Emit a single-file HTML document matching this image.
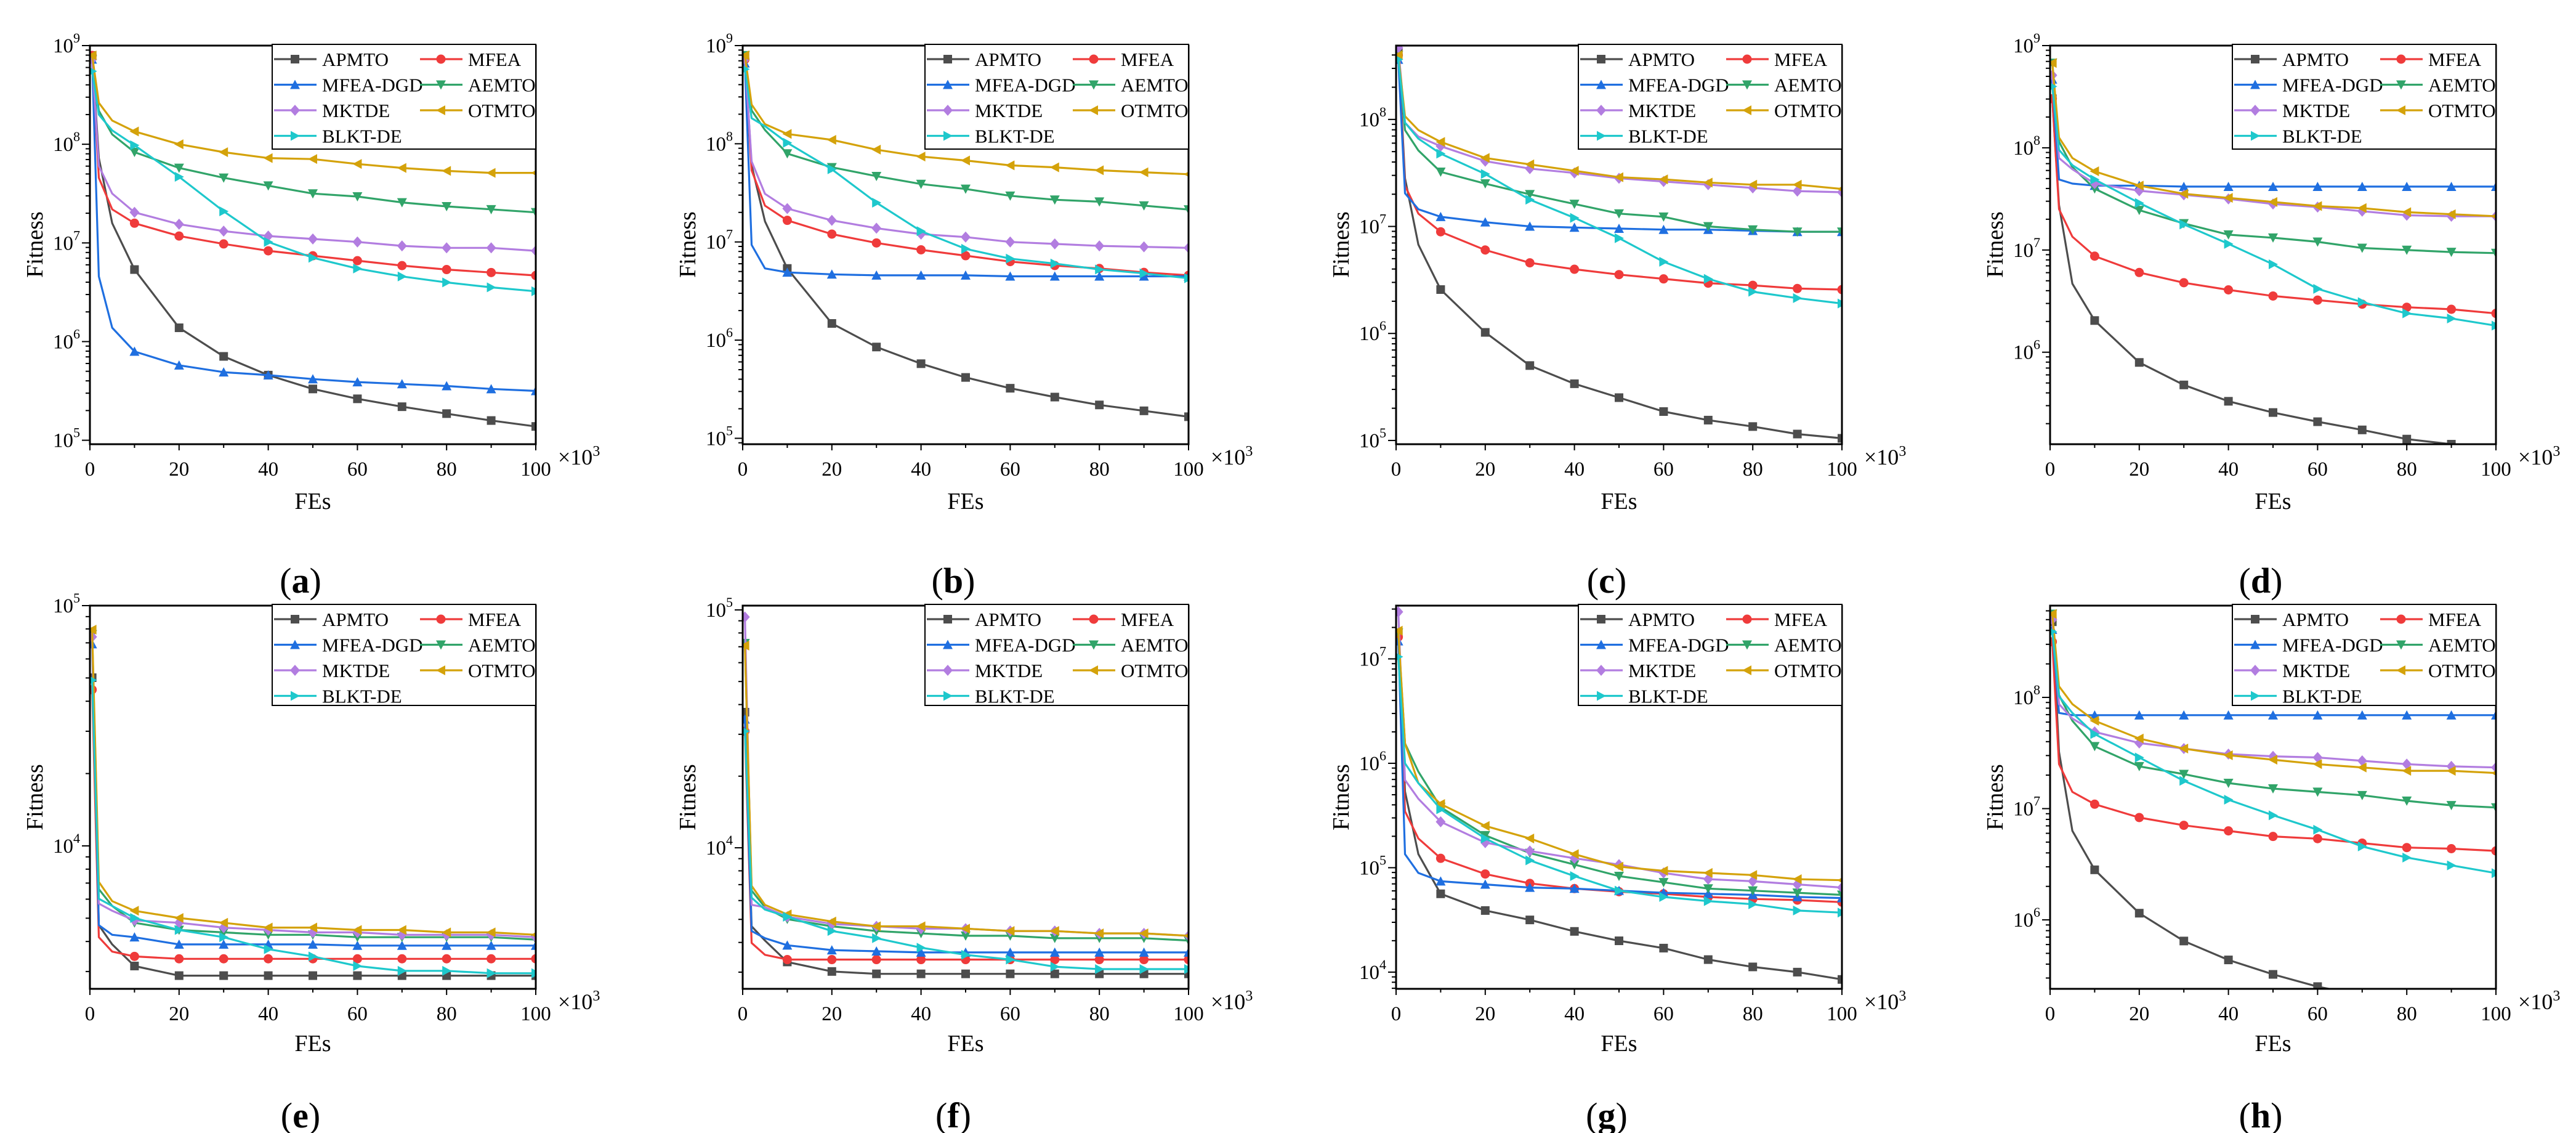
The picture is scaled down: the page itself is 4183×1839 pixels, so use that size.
<!DOCTYPE html>
<html><head><meta charset="utf-8"><style>
html,body{margin:0;padding:0;background:#fff}
svg{display:block}
text{font-family:"Liberation Serif",serif;fill:#000}
</style></head><body>
<svg id="fig" xmlns="http://www.w3.org/2000/svg" width="4183" height="1839" viewBox="0 0 4183 1839"></svg>
<script>
// x positions (FEs ×10^3)
const fes = [0.5, 2, 5, 10, 20, 30, 40, 50, 60, 70, 80, 90, 100];
const algNames = ["APMTO","MFEA","MFEA-DGD","AEMTO","MKTDE","OTMTO","BLKT-DE"];
const panelLabels = ["a","b","c","d","e","f","g","h"];
// log10(Fitness) series per panel
const a_APMTO=[8.9,7.86,7.2,6.73,6.14,5.85,5.66,5.52,5.42,5.34,5.27,5.2,5.14];
const a_MFEA=[8.9,7.66,7.34,7.2,7.07,6.99,6.92,6.87,6.82,6.77,6.73,6.7,6.67];
const a_DGD=[8.86,6.66,6.14,5.9,5.76,5.69,5.66,5.62,5.59,5.57,5.55,5.52,5.5];
const a_AEMTO=[8.86,8.34,8.1,7.92,7.76,7.66,7.58,7.5,7.47,7.41,7.37,7.34,7.31];
const a_MKTDE=[8.86,7.78,7.5,7.31,7.19,7.12,7.07,7.04,7.01,6.97,6.95,6.95,6.92];
const a_OTMTO=[8.9,8.42,8.24,8.13,8.0,7.92,7.86,7.85,7.8,7.76,7.73,7.71,7.71];
const a_BLKT=[8.74,8.3,8.14,7.99,7.67,7.32,7.01,6.85,6.74,6.66,6.6,6.55,6.51];
const b_APMTO=[8.9,7.78,7.21,6.73,6.17,5.93,5.76,5.62,5.51,5.42,5.34,5.28,5.22];
const b_MFEA=[8.86,7.73,7.37,7.22,7.08,6.99,6.92,6.86,6.8,6.76,6.73,6.69,6.66];
const b_DGD=[8.82,6.97,6.73,6.69,6.67,6.66,6.66,6.66,6.65,6.65,6.65,6.65,6.65];
const b_AEMTO=[8.9,8.34,8.14,7.9,7.76,7.67,7.59,7.54,7.47,7.43,7.41,7.37,7.33];
const b_MKTDE=[8.86,7.82,7.49,7.34,7.22,7.14,7.08,7.05,7.0,6.98,6.96,6.95,6.94];
const b_OTMTO=[8.9,8.4,8.2,8.1,8.04,7.94,7.87,7.83,7.78,7.76,7.73,7.71,7.69];
const b_BLKT=[8.76,8.26,8.18,8.01,7.74,7.4,7.11,6.93,6.83,6.78,6.72,6.68,6.63];
const c_APMTO=[8.63,7.45,6.83,6.41,6.01,5.7,5.53,5.4,5.27,5.19,5.13,5.06,5.02];
const c_MFEA=[8.6,7.38,7.12,6.95,6.78,6.66,6.6,6.55,6.51,6.47,6.45,6.42,6.41];
const c_DGD=[8.56,7.31,7.16,7.09,7.04,7.0,6.99,6.98,6.97,6.97,6.96,6.95,6.95];
const c_AEMTO=[8.6,7.9,7.71,7.51,7.4,7.3,7.21,7.12,7.09,7.0,6.97,6.95,6.95];
const c_MKTDE=[8.67,7.97,7.84,7.75,7.61,7.54,7.5,7.45,7.42,7.39,7.36,7.33,7.32];
const c_OTMTO=[8.6,8.03,7.9,7.79,7.64,7.58,7.52,7.46,7.44,7.41,7.39,7.39,7.35];
const c_BLKT=[8.56,7.97,7.82,7.68,7.49,7.25,7.08,6.89,6.67,6.51,6.39,6.33,6.28];
const d_APMTO=[8.48,7.44,6.67,6.31,5.9,5.68,5.52,5.41,5.32,5.24,5.15,5.1,5.06];
const d_MFEA=[8.48,7.4,7.13,6.94,6.78,6.68,6.61,6.55,6.51,6.47,6.44,6.42,6.38];
const d_DGD=[8.67,7.69,7.65,7.63,7.63,7.62,7.62,7.62,7.62,7.62,7.62,7.62,7.62];
const d_AEMTO=[8.83,8.06,7.81,7.6,7.39,7.26,7.15,7.12,7.08,7.02,7.0,6.98,6.97];
const d_MKTDE=[8.71,7.9,7.79,7.65,7.58,7.54,7.5,7.45,7.42,7.38,7.34,7.33,7.33];
const d_OTMTO=[8.83,8.1,7.9,7.77,7.63,7.55,7.51,7.47,7.43,7.41,7.37,7.35,7.33];
const d_BLKT=[8.6,7.98,7.83,7.69,7.46,7.25,7.06,6.86,6.62,6.49,6.38,6.33,6.26];
const e_APMTO=[4.7,3.67,3.59,3.5,3.46,3.46,3.46,3.46,3.46,3.46,3.46,3.46,3.46];
const e_MFEA=[4.65,3.62,3.56,3.54,3.53,3.53,3.53,3.53,3.53,3.53,3.53,3.53,3.53];
const e_DGD=[4.84,3.67,3.63,3.62,3.59,3.59,3.59,3.59,3.585,3.585,3.585,3.585,3.585];
const e_AEMTO=[4.88,3.82,3.75,3.68,3.65,3.64,3.63,3.63,3.62,3.62,3.62,3.62,3.61];
const e_MKTDE=[4.87,3.76,3.73,3.69,3.68,3.66,3.65,3.64,3.64,3.63,3.63,3.63,3.62];
const e_OTMTO=[4.9,3.85,3.77,3.73,3.7,3.68,3.66,3.66,3.65,3.65,3.64,3.64,3.63];
const e_BLKT=[4.69,3.78,3.75,3.7,3.65,3.62,3.57,3.54,3.5,3.48,3.48,3.47,3.47];
const f_APMTO=[4.57,3.67,3.61,3.52,3.48,3.47,3.47,3.47,3.47,3.47,3.47,3.47,3.47];
const f_MFEA=[4.49,3.6,3.55,3.53,3.53,3.53,3.53,3.53,3.53,3.53,3.53,3.53,3.53];
const f_DGD=[4.54,3.65,3.62,3.59,3.57,3.565,3.56,3.56,3.56,3.56,3.56,3.56,3.56];
const f_AEMTO=[4.86,3.82,3.75,3.7,3.67,3.65,3.64,3.63,3.63,3.62,3.62,3.62,3.61];
const f_MKTDE=[4.97,3.76,3.75,3.71,3.68,3.67,3.66,3.66,3.65,3.65,3.64,3.64,3.63];
const f_OTMTO=[4.85,3.84,3.76,3.72,3.69,3.67,3.67,3.66,3.65,3.65,3.64,3.64,3.63];
const f_BLKT=[4.49,3.79,3.74,3.71,3.65,3.62,3.58,3.55,3.53,3.5,3.49,3.49,3.49];
const g_APMTO=[7.25,5.73,5.13,4.75,4.59,4.5,4.39,4.3,4.23,4.12,4.05,4.0,3.93];
const g_MFEA=[7.21,5.54,5.28,5.09,4.94,4.85,4.8,4.77,4.75,4.72,4.7,4.69,4.67];
const g_DGD=[7.17,5.13,4.95,4.87,4.84,4.81,4.8,4.78,4.76,4.75,4.74,4.72,4.71];
const g_AEMTO=[7.25,6.19,5.92,5.58,5.31,5.14,5.03,4.92,4.86,4.8,4.78,4.76,4.74];
const g_MKTDE=[7.45,5.84,5.66,5.44,5.24,5.16,5.09,5.03,4.95,4.89,4.87,4.84,4.81];
const g_OTMTO=[7.27,6.19,5.81,5.61,5.4,5.28,5.13,5.01,4.97,4.95,4.93,4.89,4.88];
const g_BLKT=[7.02,6.0,5.81,5.56,5.28,5.07,4.92,4.78,4.72,4.68,4.65,4.59,4.57];
const h_APMTO=[8.68,7.51,6.8,6.45,6.06,5.81,5.64,5.51,5.4,5.32,5.24,5.17,5.11];
const h_MFEA=[8.5,7.4,7.15,7.04,6.92,6.85,6.8,6.75,6.73,6.69,6.65,6.64,6.62];
const h_DGD=[8.61,7.86,7.84,7.84,7.84,7.84,7.84,7.84,7.84,7.84,7.84,7.84,7.84];
const h_AEMTO=[8.75,8.02,7.79,7.56,7.38,7.31,7.23,7.18,7.15,7.12,7.07,7.03,7.01];
const h_MKTDE=[8.7,7.94,7.81,7.69,7.59,7.54,7.49,7.47,7.46,7.43,7.4,7.38,7.37];
const h_OTMTO=[8.75,8.1,7.94,7.79,7.63,7.54,7.48,7.44,7.4,7.37,7.34,7.34,7.32];
const h_BLKT=[8.59,8.01,7.86,7.67,7.46,7.25,7.08,6.94,6.81,6.66,6.56,6.49,6.42];
// axis ranges (log10)
const yLogMin = [4.96,4.94,4.965,5.10,3.405,3.407,3.84,5.38];
const yLogMax = [9,9,8.69,9,5,5.018,7.51,8.825];
const xTicks = [0,20,40,60,80,100];

const seriesByPanel = [
 [a_APMTO,a_MFEA,a_DGD,a_AEMTO,a_MKTDE,a_OTMTO,a_BLKT],
 [b_APMTO,b_MFEA,b_DGD,b_AEMTO,b_MKTDE,b_OTMTO,b_BLKT],
 [c_APMTO,c_MFEA,c_DGD,c_AEMTO,c_MKTDE,c_OTMTO,c_BLKT],
 [d_APMTO,d_MFEA,d_DGD,d_AEMTO,d_MKTDE,d_OTMTO,d_BLKT],
 [e_APMTO,e_MFEA,e_DGD,e_AEMTO,e_MKTDE,e_OTMTO,e_BLKT],
 [f_APMTO,f_MFEA,f_DGD,f_AEMTO,f_MKTDE,f_OTMTO,f_BLKT],
 [g_APMTO,g_MFEA,g_DGD,g_AEMTO,g_MKTDE,g_OTMTO,g_BLKT],
 [h_APMTO,h_MFEA,h_DGD,h_AEMTO,h_MKTDE,h_OTMTO,h_BLKT]
];
const colors = ["#4d4d4d","#ef3b3b","#1f6fe0","#31a469","#b27de0","#d4a20a","#1ec8cc"];
const shapes = ["square","circle","up","down","diamond","left","right"];

const NS="http://www.w3.org/2000/svg";
const svg=document.getElementById("fig");
function mk(tag,attrs,parent){const e=document.createElementNS(NS,tag);for(const k in attrs)e.setAttribute(k,attrs[k]);(parent||svg).appendChild(e);return e;}
function marker(g,shape,x,y,c){
  const s=7;let e;
  if(shape==="square")e=mk("rect",{x:x-s,y:y-s,width:2*s,height:2*s,fill:c},g);
  else if(shape==="circle")e=mk("circle",{cx:x,cy:y,r:s+0.5,fill:c},g);
  else{
    let p;
    if(shape==="up")p=[[x,y-s-1],[x+s+1,y+s],[x-s-1,y+s]];
    if(shape==="down")p=[[x,y+s+1],[x+s+1,y-s],[x-s-1,y-s]];
    if(shape==="diamond")p=[[x,y-s-2],[x+s+1,y],[x,y+s+2],[x-s-1,y]];
    if(shape==="left")p=[[x-s-1,y],[x+s,y-s-1],[x+s,y+s+1]];
    if(shape==="right")p=[[x+s+1,y],[x-s,y-s-1],[x-s,y+s+1]];
    e=mk("polygon",{points:p.map(q=>q.join(",")).join(" "),fill:c},g);
  }
  return e;
}
const colOff=[0,1060,2121,3183];
for(let pi=0;pi<8;pi++){
  const row=pi<4?0:1, col=pi%4;
  const L=colOff[col]+146, W=724;
  const T=row===0?74:983, B=row===0?721:1605, H=B-T;
  const lo=yLogMin[pi], hi=yLogMax[pi];
  const xs=v=>L+v/100*W;
  const ys=lv=>B-(lv-lo)/(hi-lo)*H;
  const g=mk("g",{});
  
  
  const cid="clip"+pi;
  const cp=mk("clipPath",{id:cid},g);mk("rect",{x:L,y:T,width:W,height:H},cp);
  const sg=mk("g",{"clip-path":"url(#"+cid+")"},g);
  const ser=seriesByPanel[pi];
  for(let si=0;si<7;si++){
    const pts=fes.map((f,i)=>xs(f).toFixed(1)+","+ys(ser[si][i]).toFixed(1)).join(" ");
    const pl=mk("polyline",{points:pts,fill:"none",stroke:colors[si],"stroke-width":3.2,"stroke-linejoin":"round"},sg);
    
    
    fes.forEach((f,i)=>{ if(i===0||f%10===0){
      const m=marker(sg,shapes[si],xs(f),ys(ser[si][i]),colors[si]);
      
      
    }});
  }
  const fr=mk("rect",{x:L,y:T,width:W,height:H,fill:"none",stroke:"#000","stroke-width":3},g);
  
  
  for(let d=Math.floor(lo);d<=Math.ceil(hi);d++){
    for(let k=1;k<10;k++){
      const lv=d+Math.log10(k); if(lv<lo-1e-6||lv>hi+1e-6)continue;
      const y=ys(lv);
      mk("line",{x1:L,x2:L-(k===1?13:7),y1:y,y2:y,stroke:"#000","stroke-width":2},g);
      if(k===1){
        const t=mk("text",{x:L-16,y:y+11,"text-anchor":"end","font-size":33},g);
        
        
        t.textContent="10";
        const sup=mk("tspan",{"font-size":22,dy:-16},t);sup.textContent=String(d);
      }
    }
  }
  for(let v=0;v<=100;v+=10){
    const x=xs(v);
    mk("line",{x1:x,x2:x,y1:B,y2:B+(v%20===0?10:6),stroke:"#000","stroke-width":2},g);
  }
  xTicks.forEach(v=>{
    const t=mk("text",{x:xs(v),y:B+51,"text-anchor":"middle","font-size":33},g);
    
    
    t.textContent=String(v);
  });
  const mult=mk("text",{x:L+W+36,y:B+33,"font-size":36,"font-family":"Liberation Sans, sans-serif"},g);
  
  
  mult.textContent="×10";
  const ms=mk("tspan",{"font-size":24,dy:-14},mult);ms.textContent="3";
  const xt=mk("text",{x:L+362,y:B+(row===0?105:101),"text-anchor":"middle","font-size":38},g);
  
  
  xt.textContent="FEs";
  const cy=row===0?397:1294;
  const yt=mk("text",{x:0,y:0,"text-anchor":"middle","font-size":38,transform:"translate("+(colOff[col]+69)+","+cy+") rotate(-90)"},g);
  
  
  yt.textContent="Fitness";
  const lg=mk("g",{},g);
  
  
  const lx=L+W-428, ly=T-2, lh=row===0?170:164;
  mk("rect",{x:lx,y:ly,width:428,height:lh,fill:"#fff",stroke:"#000","stroke-width":2},lg);
  for(let si=0;si<7;si++){
    const r=Math.floor(si/2), c=si%2;
    const yy=ly+24+r*41.5;
    const x0=lx+(c===0?3:240);
    const ent=mk("g",{},lg);
    
    
    mk("line",{x1:x0,x2:x0+69,y1:yy,y2:yy,stroke:colors[si],"stroke-width":3.2},ent);
    marker(ent,shapes[si],x0+34,yy,colors[si]);
    const t=mk("text",{x:x0+78,y:yy+11,"font-size":31},ent);
    t.textContent=algNames[si];
  }
  const pl=mk("text",{x:colOff[col]+488,y:row===0?962:1830,"text-anchor":"middle","font-size":58},g);
  
  
  pl.appendChild(document.createTextNode("("));
  const bl=mk("tspan",{"font-weight":"bold"},pl);bl.textContent=panelLabels[pi];
  pl.appendChild(document.createTextNode(")"));
}
</script>
</body></html>
